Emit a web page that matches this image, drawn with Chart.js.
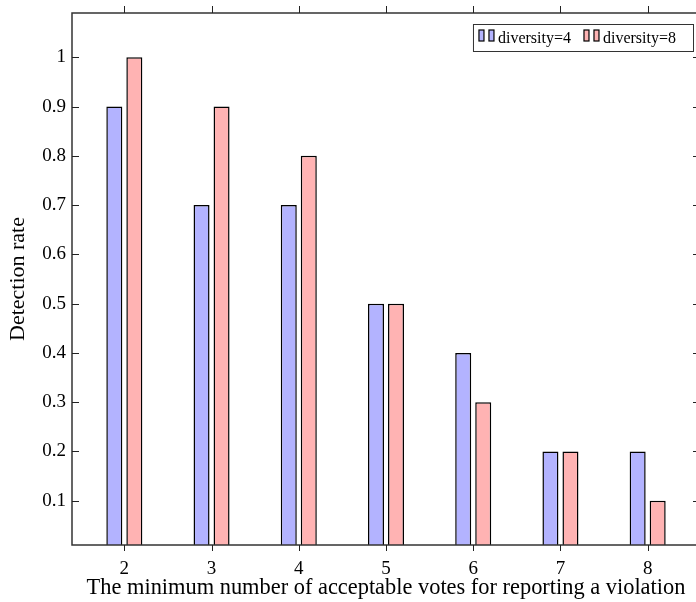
<!DOCTYPE html>
<html>
<head>
<meta charset="utf-8">
<script src="https://cdn.jsdelivr.net/npm/chart.js@4/dist/chart.umd.min.js"></script>
<style>
  html, body { margin: 0; padding: 0; background: #fff; overflow: hidden; }
  #wrap { width: 704px; height: 602px; }
</style>
</head>
<body>
<div id="wrap"><canvas id="chart" width="704" height="602"></canvas></div>
<script>
const votes = [2, 3, 4, 5, 6, 7, 8];
const diversity4 = [0.9, 0.7, 0.7, 0.5, 0.4, 0.2, 0.2];
const diversity8 = [1.0, 0.9, 0.8, 0.5, 0.3, 0.2, 0.1];
const xTicks = [2, 3, 4, 5, 6, 7, 8];
const yTicks = [0.1, 0.2, 0.3, 0.4, 0.5, 0.6, 0.7, 0.8, 0.9, 1];
const seriesNames = ['diversity=4', 'diversity=8'];

const FONT = 'Liberation Serif';
const blueFill = '#b3b3ff';
const redFill = '#ffb3b3';

// box, inward y ticks, outward x ticks, legend
const framePlugin = {
    id: 'frame',
    afterDatasetsDraw(chart) {
        const { ctx, chartArea: a, scales } = chart;
        ctx.save();
        ctx.strokeStyle = '#333';
        ctx.lineWidth = 1.5;
        ctx.strokeRect(a.left, a.top, a.right - a.left, a.bottom - a.top);

        ctx.lineWidth = 1;
        ctx.strokeStyle = '#222';
        ctx.beginPath();
        xTicks.forEach(v => {
            const px = Math.round(scales.x.getPixelForValue(v)) + 0.5;
            ctx.moveTo(px, a.bottom); ctx.lineTo(px, a.bottom + 6);
            ctx.moveTo(px, a.top); ctx.lineTo(px, a.top - 7);
        });
        yTicks.forEach(v => {
            const py = Math.round(scales.y.getPixelForValue(v)) + 0.5;
            ctx.moveTo(a.left, py); ctx.lineTo(a.left + 7, py);
            ctx.moveTo(a.right, py); ctx.lineTo(a.right - 7, py);
        });
        ctx.stroke();

        // legend
        ctx.font = '16px "' + FONT + '"';
        const ds = chart.data.datasets;
        const widths = ds.map(d => ctx.measureText(d.label).width);
        const iconW = 5, iconGap = 5, textGap = 4, itemGap = 13, padL = 6, padR = 17;
        const itemW = widths.map(w => iconW * 2 + iconGap + textGap + w);
        const boxW = padL + padR + itemW.reduce((s, w) => s + w, 0) + itemGap * (ds.length - 1);
        const boxH = 27;
        const bx = a.right - 7 - boxW;
        const by = a.top + 11;
        ctx.fillStyle = '#fff';
        ctx.fillRect(bx, by, boxW, boxH);
        ctx.strokeStyle = '#333';
        ctx.lineWidth = 1;
        ctx.strokeRect(bx + 0.5, by + 0.5, boxW, boxH);
        let x = bx + padL;
        ds.forEach((d, i) => {
            [0, iconW + iconGap].forEach(off => {
                ctx.fillStyle = d.backgroundColor;
                ctx.fillRect(x + off, by + 6, iconW, 11);
                ctx.strokeStyle = '#000';
                ctx.lineWidth = 1.2;
                ctx.strokeRect(x + off, by + 6, iconW, 11);
            });
            ctx.fillStyle = '#000';
            ctx.textBaseline = 'middle';
            ctx.textAlign = 'left';
            ctx.fillText(d.label, x + iconW * 2 + iconGap + textGap, by + boxH / 2 + 1);
            x += itemW[i] + itemGap;
        });
        ctx.restore();
    }
};

new Chart(document.getElementById('chart'), {
    type: 'bar',
    data: {
        datasets: [
            {
                label: seriesNames[0],
                data: votes.map((v, i) => ({ x: v, y: diversity4[i] })),
                backgroundColor: blueFill,
                borderColor: '#000',
                borderWidth: 1.5,
                borderSkipped: false
            },
            {
                label: seriesNames[1],
                data: votes.map((v, i) => ({ x: v, y: diversity8[i] })),
                backgroundColor: redFill,
                borderColor: '#000',
                borderWidth: 1.5,
                borderSkipped: false
            }
        ]
    },
    options: {
        responsive: false,
        animation: false,
        categoryPercentage: 0.459,
        barPercentage: 0.8,
        layout: { padding: { top: 13, right: 4, left: 0, bottom: 0 } },
        plugins: {
            legend: { display: false },
            tooltip: { enabled: false }
        },
        scales: {
            x: {
                type: 'linear',
                position: 'bottom',
                offset: false,
                min: 1.4,
                max: 8.6,
                grid: { display: false, drawTicks: false },
                border: { display: false },
                afterBuildTicks: s => { s.ticks = xTicks.map(v => ({ value: v })); },
                afterFit: s => { s.height = 57; s.paddingLeft = 0; s.paddingRight = 0; },
                ticks: {
                    color: '#000',
                    padding: 13,
                    maxRotation: 0,
                    font: { family: FONT, size: 19 },
                    callback: v => String(v)
                },
                title: {
                    display: true,
                    text: 'The minimum number of acceptable votes for reporting a violation',
                    color: '#000',
                    font: { family: FONT, size: 22.4 },
                    padding: { top: 0, bottom: 0 }
                }
            },
            y: {
                min: 0.01,
                max: 1.09,
                grid: { display: false, drawTicks: false },
                border: { display: false },
                afterBuildTicks: s => { s.ticks = yTicks.map(v => ({ value: v })); },
                afterFit: s => { s.width = 72; s.paddingTop = 0; s.paddingBottom = 0; },
                ticks: {
                    color: '#000',
                    padding: 6,
                    font: { family: FONT, size: 19 },
                    callback: v => String(+v.toFixed(1))
                },
                title: {
                    display: true,
                    text: 'Detection rate',
                    color: '#000',
                    font: { family: FONT, size: 22 },
                    padding: { top: 5, bottom: 0 }
                }
            }
        }
    },
    plugins: [framePlugin]
});
</script>
</body>
</html>
